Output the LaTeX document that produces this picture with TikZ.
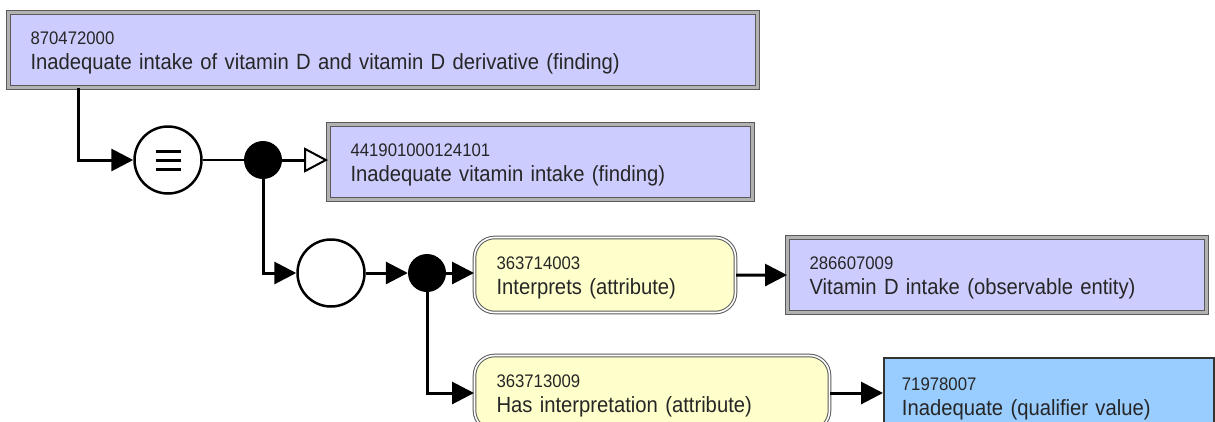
\documentclass[tikz,border=0pt]{standalone}
\usepackage{fontspec}
\setmainfont[FakeStretch=0.92]{Liberation Sans}
\usepackage{tikz}
\usetikzlibrary{arrows.meta, positioning, calc}

\definecolor{definedblue}{HTML}{CCCCFF}
\definecolor{primblue}{HTML}{99CCFF}
\definecolor{attryellow}{HTML}{FFFFCC}

\newcommand{\conceptid}[1]{{\fontsize{18.2}{25}\selectfont\rule{0pt}{19pt}#1}}

\tikzset{
  concept/.style={rectangle, anchor=north west, align=left, inner xsep=22pt,
                  minimum height=75pt, text=black!85,
                  font=\fontsize{22}{25}\selectfont},
  definedbox/.style={concept, fill=definedblue, draw=gray!70!black,
                     line width=1.1pt, double=gray!60, double distance=2.2pt},
  primbox/.style={concept, fill=primblue, draw=gray!40!black, line width=1.8pt},
  attrbox/.style={concept, rounded corners=20pt, fill=attryellow,
                  draw=gray!70!black, line width=1pt, double=white,
                  double distance=1.6pt},
  opcircle/.style={circle, draw=black, line width=2.5pt, fill=white,
                   minimum size=67pt, inner sep=0pt},
  joindot/.style={circle, fill=black, minimum size=38pt, inner sep=0pt},
  link/.style={line width=3pt, -{Triangle[length=22pt, width=22pt]}},
  isa/.style={line width=3pt, -{Triangle[length=24pt, width=25pt, fill=white, line width=2pt]}}
}

\begin{document}
\begin{tikzpicture}[x=1pt, y=-1pt]
    \useasboundingbox (0,0) rectangle (1215,421);
    \clip (0,0) rectangle (1215,421);

    % focus concept
    \node[definedbox, text width=705pt](focus) at (8,12)
         {\conceptid{870472000}\\Inadequate intake of vitamin D and vitamin D derivative (finding)};

    % definition status and first group
    \node[opcircle](eqv) at (168,160){};
    \foreach \dy in {-9,0,9}
        \draw[line width=3pt] ([shift={(-12.5,\dy)}]eqv.center) -- ++(25,0);
    \node[joindot](dot1) at (263,160){};

    \node[definedbox, text width=380pt](parent) at (328,124)
         {\conceptid{441901000124101}\\Inadequate vitamin intake (finding)};

    % attribute group
    \node[opcircle](group) at (331,273){};
    \node[joindot](dot2) at (427,273){};

    \node[attrbox, text width=217pt](interprets) at (474,237)
         {\conceptid{363714003}\\Interprets (attribute)};
    \node[definedbox, text width=375pt](intake) at (787,237)
         {\conceptid{286607009}\\Vitamin D intake (observable entity)};

    \node[attrbox, text width=311pt](hasinterp) at (474,355)
         {\conceptid{363713009}\\Has interpretation (attribute)};
    \node[primbox, text width=294pt, inner xsep=18pt](inadequate) at (883,357)
         {\conceptid{71978007}\\Inadequate (qualifier value)};

    % connectors
    \draw[link] ([xshift=70pt]focus.south west) |- (eqv);
    \draw[line width=2pt] (eqv) -- (dot1);
    \draw[isa] (dot1) -- (dot1 -| parent.west);
    \draw[link] (dot1) |- (group);
    \draw[link] (group) -- (dot2);
    \draw[link] (dot2) -- (dot2 -| interprets.west);
    \draw[link] (interprets) -- (intake);
    \draw[link] (dot2) |- (hasinterp);
    \draw[link] (hasinterp) -- (hasinterp -| inadequate.west);
\end{tikzpicture}
\end{document}
